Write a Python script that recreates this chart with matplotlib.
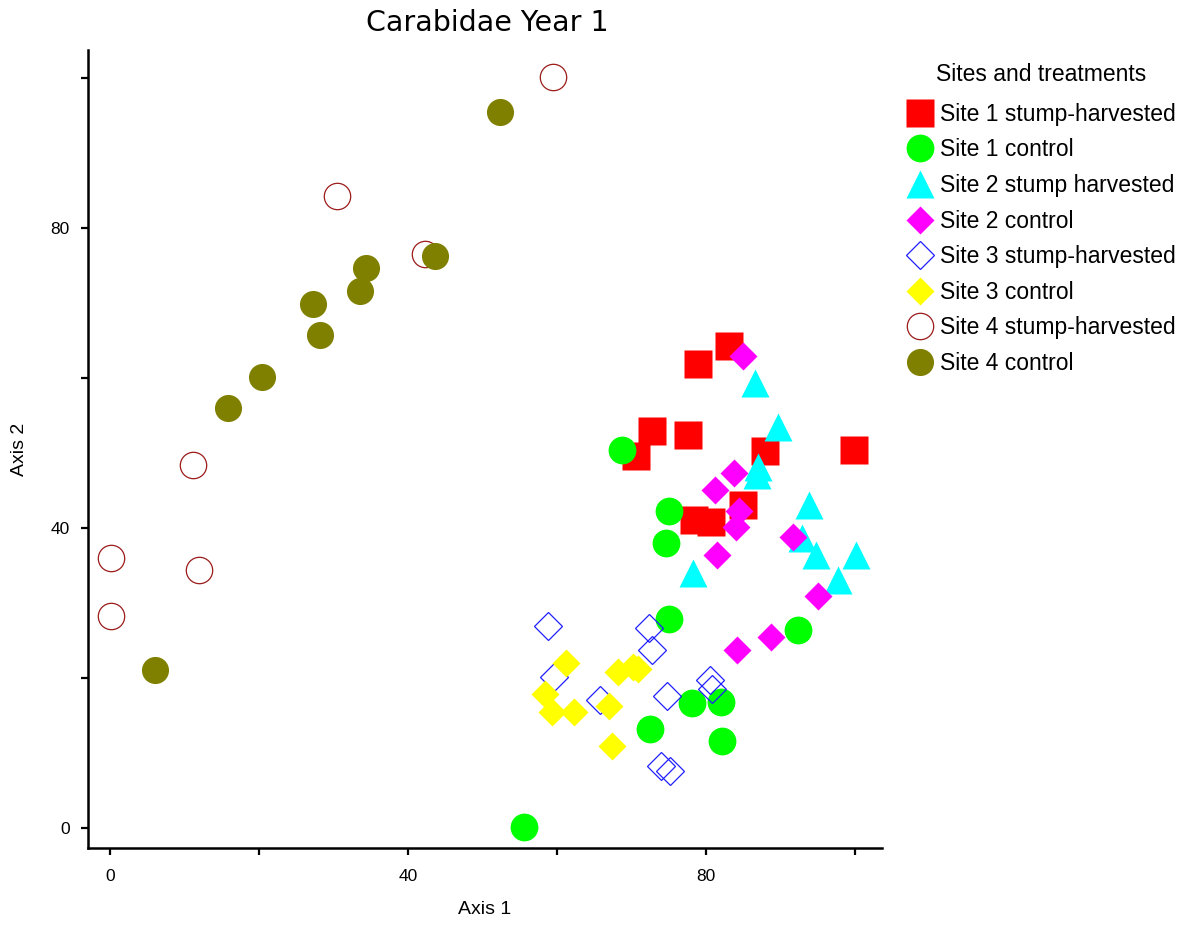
import matplotlib
matplotlib.use("Agg")
import matplotlib.pyplot as plt

plt.rcParams['font.family'] = ['Liberation Sans', 'DejaVu Sans']

# ---- data ----
title = "Carabidae Year 1"
xlabel = "Axis 1"
ylabel = "Axis 2"
legend_title = "Sites and treatments"
tick_values = [0, 20, 40, 60, 80, 100]
tick_labels = ['0', '', '40', '', '80', '']

names = ["Site 1 stump-harvested", "Site 1 control", "Site 2 stump harvested",
         "Site 2 control", "Site 3 stump-harvested", "Site 3 control",
         "Site 4 stump-harvested", "Site 4 control"]

s1h_x = [83.1, 78.9, 72.7, 70.6, 77.6, 87.9, 99.9, 84.9, 78.4, 80.6]
s1h_y = [64.3, 61.9, 52.9, 49.6, 52.4, 50.2, 50.4, 43.1, 41.0, 40.8]

s1c_x = [68.7, 75.0, 74.6, 75.0, 92.3, 78.1, 82.0, 72.5, 82.1, 55.5]
s1c_y = [50.4, 42.2, 38.0, 27.9, 26.4, 16.7, 16.8, 13.2, 11.6, 0.1]

s2h_x = [86.6, 89.7, 86.9, 86.8, 93.8, 92.8, 94.8, 100.1, 97.7, 78.2]
s2h_y = [59.3, 53.4, 48.1, 47.1, 43.0, 38.7, 36.4, 36.4, 33.0, 34.0]

s2c_x = [85.0, 83.8, 81.2, 84.4, 84.0, 81.4, 91.6, 95.0, 84.2, 88.7]
s2c_y = [62.9, 47.3, 45.1, 42.3, 40.1, 36.4, 38.8, 30.9, 23.7, 25.5]

s3h_x = [58.8, 72.3, 72.8, 59.6, 65.7, 74.8, 80.5, 80.8, 74.0, 75.2]
s3h_y = [26.9, 26.6, 23.7, 20.1, 17.1, 17.6, 19.7, 18.5, 8.3, 7.6]

s3c_x = [61.2, 68.2, 70.2, 70.8, 58.4, 59.3, 62.3, 67.0, 67.4]
s3c_y = [22.0, 20.8, 21.4, 21.2, 17.9, 15.5, 15.5, 16.2, 10.9]

s4h_x = [59.5, 30.5, 42.3, 11.2, 0.1, 11.9, 0.1]
s4h_y = [100.1, 84.2, 76.5, 48.4, 36.0, 34.4, 28.3]

s4c_x = [52.3, 43.6, 34.3, 33.5, 27.2, 28.2, 20.4, 15.8, 6.0]
s4c_y = [95.5, 76.3, 74.6, 71.6, 69.9, 65.7, 60.1, 56.0, 21.1]

series = [(s1h_x, s1h_y), (s1c_x, s1c_y), (s2h_x, s2h_y), (s2c_x, s2c_y),
          (s3h_x, s3h_y), (s3c_x, s3c_y), (s4h_x, s4h_y), (s4c_x, s4c_y)]

# ---- styles ----
styles = [
    dict(marker='s', ms=20, mfc='#FF0000', mec='none'),
    dict(marker='o', ms=20, mfc='#00FF00', mec='none'),
    dict(marker='^', ms=20, mfc='#00FFFF', mec='none'),
    dict(marker='D', ms=14.7, mfc='#FF00FF', mec='none'),
    dict(marker='D', ms=14.2, mfc='none', mec='#2020FF', mew=0.9),
    dict(marker='D', ms=14.7, mfc='#FFFF00', mec='none'),
    dict(marker='o', ms=19, mfc='none', mec='#9B1B1B', mew=0.9),
    dict(marker='o', ms=19.5, mfc='#808000', mec='none'),
]

W, H = 1189, 927
fig = plt.figure(figsize=(W / 100, H / 100), dpi=100)
ax = fig.add_axes([88 / W, 1 - 848 / H, (882 - 88) / W, (848 - 50) / H])

for (xs, ys), name, st in zip(series, names, styles):
    ax.plot(xs, ys, linestyle='none', label=name, **st)

ax.set_xlim(-2.95, 103.6)
ax.set_ylim(-2.67, 103.7)

for side in ['top', 'right']:
    ax.spines[side].set_visible(False)
for side in ['left', 'bottom']:
    ax.spines[side].set_linewidth(1.8)
    ax.spines[side].set_color('black')

ax.set_xticks(tick_values)
ax.set_xticklabels(tick_labels)
ax.set_yticks(tick_values)
ax.set_yticklabels(tick_labels)
ax.tick_params(axis='both', direction='out', length=5, width=1.6, colors='black',
               labelsize=12.5)
ax.tick_params(axis='x', pad=10)
ax.tick_params(axis='y', pad=8)

ax.set_xlabel(xlabel, fontsize=14, va='center')
ax.xaxis.set_label_coords(0.5, -62 / 798)
ax.set_ylabel(ylabel, fontsize=14, va='center')
ax.yaxis.set_label_coords(-68 / 794, 0.5)

fig.text(487 / W, 1 - 23 / H, title, ha='center', va='center', fontsize=20.5,
         family='DejaVu Sans')

leg = ax.legend(loc='upper left', bbox_to_anchor=(906 / W, 1 - 63 / H),
                bbox_transform=fig.transFigure, frameon=False, fontsize=16.5,
                title=legend_title, title_fontsize=16.5, handlelength=1.25,
                handletextpad=0.25, labelspacing=0.55, borderpad=0,
                borderaxespad=0, numpoints=1)
leg._legend_box.sep = 0.55 * 16.5 + 3.0

fig.savefig('out.png', dpi=100)
